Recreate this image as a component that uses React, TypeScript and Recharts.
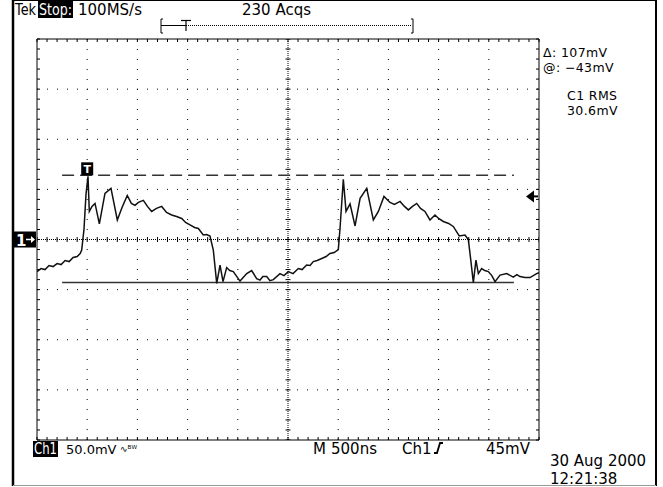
import React from 'react';
import {
  ComposedChart,
  Line,
  Scatter,
  XAxis,
  YAxis,
  ReferenceLine,
  ReferenceDot,
} from 'recharts';

// Ch1 trace, time in ns from left edge of the screen (500 ns/div), level in mV (50 mV/div)
const timeNs = [
  0, 40, 80, 120, 160, 200, 240, 280, 320, 360, 400, 430, 445, 468, 488, 508, 521, 548,
  578, 621, 677, 737, 800, 847, 899, 940, 976, 1010, 1059, 1100, 1142, 1190, 1242, 1290,
  1342, 1390, 1441, 1480, 1524, 1570, 1607, 1656, 1690, 1723, 1756, 1790, 1823, 1853, 1889,
  1920, 1955, 2022, 2089, 2138, 2188, 2221, 2250, 2288, 2320, 2354, 2420, 2460, 2503, 2550,
  2603, 2640, 2686, 2720, 2752, 2790, 2836, 2880, 2918, 2960, 3001, 3018, 3051, 3078, 3118,
  3168, 3218, 3284, 3350, 3400, 3456, 3516, 3560, 3616, 3660, 3699, 3740, 3782, 3820, 3864,
  3914, 3964, 4000, 4047, 4100, 4146, 4206, 4263, 4296, 4320, 4346, 4372, 4396, 4429, 4460,
  4495, 4530, 4562, 4612, 4679, 4744, 4780, 4811, 4860, 4910, 4977, 5000,
];
const ch1mV = [
  -32, -29, -30, -26, -27, -24, -25, -21, -22, -18, -17, -14, -10.5, 10, 45, 63, 28, 33,
  36, 15.5, 46, 51, 19.5, 32, 44, 36, 34, 37, 39, 33, 28, 31, 33, 27,
  24.5, 23, 21, 17, 14.5, 12, 11, 4.5, 5, 3.5, -10.5, -43.7, -25.5, -42, -28,
  -31, -32, -41.5, -34, -31, -39, -40.5, -37, -37, -41, -40, -34, -36, -32, -34,
  -29, -30, -25.5, -26, -22, -21, -19, -17, -14, -13, -10, 11, 60, 28, 35.5,
  13.5, 41, 51, 19.5, 28, 43, 37, 35, 38, 33, 29.5, 33, 36, 31, 28,
  19.5, 24.5, 21, 18, 16, 13, 3.5, 4.5, 0, -20, -43, -20.5, -34, -29, -31,
  -32, -36, -42, -35.5, -34, -37.5, -35, -37, -38, -38, -34, -33,
];

const majorT = [500, 1000, 1500, 2000, 3000, 3500, 4000, 4500];
const majorV = [-150, -100, -50, 50, 100, 150];
const minorT = Array.from({ length: 51 }, (_, i) => i * 100);
const minorV = Array.from({ length: 41 }, (_, i) => -200 + i * 10);

const cursorHigh = 64;
const cursorLow = -43;
const cursorFrom = 250;
const cursorTo = 4750;
const triggerT = 500;
const triggerLevel = 43;

const trace = timeNs.map((t, i) => ({ t, v: ch1mV[i] }));
const hTicks = minorT.map((t) => ({ t, v: 0 }));
const vTicks = minorV.map((v) => ({ t: 2500, v }));

const FONT = '"DejaVu Sans", sans-serif';
const noLabel = () => <g />;

const App = () => {
  return (
    <div style={{ position: 'absolute', left: 0, top: 0, width: 663, height: 487, background: '#fff' }}>
      <ComposedChart
        width={663}
        height={487}
        margin={{ top: 39, right: 124, bottom: 47, left: 37 }}
      >
        <XAxis
          xAxisId={0}
          dataKey="t"
          type="number"
          domain={[0, 5000]}
          ticks={minorT}
          interval={0}
          orientation="bottom"
          mirror
          tick={noLabel}
          tickSize={3}
          height={10}
          axisLine={{ stroke: '#000' }}
          tickLine={{ stroke: '#000' }}
          allowDataOverflow
        />
        <XAxis
          xAxisId="top"
          dataKey="t"
          type="number"
          domain={[0, 5000]}
          ticks={minorT}
          interval={0}
          orientation="top"
          mirror
          tick={noLabel}
          tickSize={3}
          height={10}
          axisLine={{ stroke: '#000' }}
          tickLine={{ stroke: '#000' }}
          allowDataOverflow
        />
        <YAxis
          yAxisId={0}
          type="number"
          domain={[-200, 200]}
          ticks={minorV}
          interval={0}
          orientation="left"
          mirror
          tick={noLabel}
          tickSize={3}
          width={10}
          axisLine={{ stroke: '#000' }}
          tickLine={{ stroke: '#000' }}
          allowDataOverflow
        />
        <YAxis
          yAxisId="right"
          type="number"
          domain={[-200, 200]}
          ticks={minorV}
          interval={0}
          orientation="right"
          mirror
          tick={noLabel}
          tickSize={3}
          width={10}
          axisLine={{ stroke: '#000' }}
          tickLine={{ stroke: '#000' }}
          allowDataOverflow
        />
        {majorT.map((t) => (
          <ReferenceLine key={`gx${t}`} x={t} stroke="#000" strokeDasharray="1 9" />
        ))}
        {majorV.map((v) => (
          <ReferenceLine key={`gy${v}`} y={v} stroke="#000" strokeDasharray="1 9" />
        ))}
        <ReferenceLine y={0} stroke="#000" strokeDasharray="1 1" />
        <ReferenceLine x={2500} stroke="#000" strokeDasharray="1 1" />
        <Scatter
          data={hTicks}
          dataKey="v"
          isAnimationActive={false}
          shape={(p: any) => (
            <line x1={p.cx} x2={p.cx} y1={p.cy - 2.5} y2={p.cy + 2.5} stroke="#000" strokeWidth={1} />
          )}
        />
        <Scatter
          data={vTicks}
          dataKey="v"
          isAnimationActive={false}
          shape={(p: any) => (
            <line x1={p.cx - 2.5} x2={p.cx + 2.5} y1={p.cy} y2={p.cy} stroke="#000" strokeWidth={1} />
          )}
        />
        <ReferenceLine
          segment={[{ x: cursorFrom, y: cursorHigh }, { x: cursorTo, y: cursorHigh }]}
          stroke="#333"
          strokeWidth={1.5}
          strokeDasharray="12 6"
        />
        <ReferenceLine
          segment={[{ x: cursorFrom, y: cursorLow }, { x: cursorTo, y: cursorLow }]}
          stroke="#333"
          strokeWidth={1.5}
        />
        <Line
          data={trace}
          dataKey="v"
          type="linear"
          stroke="#111"
          strokeWidth={1.5}
          dot={false}
          isAnimationActive={false}
        />
        <ReferenceDot
          x={triggerT}
          y={70}
          ifOverflow="visible"
          shape={(p: any) => (
            <g>
              <rect x={p.cx - 6} y={p.cy - 7} width={12} height={13} fill="#000" />
              <text x={p.cx} y={p.cy + 4} fill="#fff" fontSize={11} fontWeight="bold" textAnchor="middle" fontFamily={FONT}>
                T
              </text>
            </g>
          )}
        />
        <ReferenceDot
          x={0}
          y={0}
          ifOverflow="visible"
          shape={(p: any) => (
            <g>
              <rect x={p.cx - 23} y={p.cy - 8} width={22} height={16} fill="#000" />
              <text x={p.cx - 21} y={p.cy + 6} fill="#fff" fontSize={15} fontWeight="bold" fontFamily={FONT}>
                1
              </text>
              <line x1={p.cx - 11} x2={p.cx - 4} y1={p.cy} y2={p.cy} stroke="#fff" strokeWidth={1.5} />
              <polygon points={`${p.cx - 2},${p.cy} ${p.cx - 6},${p.cy - 3.5} ${p.cx - 6},${p.cy + 3.5}`} fill="#fff" />
            </g>
          )}
        />
        <ReferenceDot
          x={5000}
          y={triggerLevel}
          ifOverflow="visible"
          shape={(p: any) => (
            <g>
              <polygon points={`${p.cx - 13},${p.cy} ${p.cx - 5},${p.cy - 6} ${p.cx - 5},${p.cy + 6}`} fill="#000" />
              <line x1={p.cx - 6} x2={p.cx - 1} y1={p.cy} y2={p.cy} stroke="#000" strokeWidth={2} />
            </g>
          )}
        />
      </ComposedChart>

      <svg
        width={663}
        height={487}
        style={{ position: 'absolute', left: 0, top: 0, pointerEvents: 'none' }}
        fontFamily={FONT}
        fontSize={15}
      >
        {/* frame */}
        <line x1={13} x2={13} y1={0} y2={486} stroke="#000" strokeWidth={2.5} />
        <line x1={656} x2={656} y1={0} y2={486} stroke="#000" strokeWidth={2} />
        <line x1={13} x2={656} y1={0.5} y2={0.5} stroke="#000" strokeWidth={1} />
        <line x1={13} x2={656} y1={485.5} y2={485.5} stroke="#999" strokeWidth={1} />

        {/* header */}
        <text x={15} y={15} textLength={21} lengthAdjust="spacingAndGlyphs">Tek</text>
        <rect x={38} y={1} width={35} height={17} fill="#000" />
        <text x={39} y={15} fill="#fff" textLength={33} lengthAdjust="spacingAndGlyphs">Stop:</text>
        <text x={78} y={15}>100MS/s</text>
        <text x={242} y={15}>230 Acqs</text>

        {/* record view bar */}
        <path d="M163,19 L161,19 L161,33 L163,33" fill="none" stroke="#000" strokeWidth={1} />
        <line x1={161} x2={186} y1={25.5} y2={25.5} stroke="#000" strokeWidth={1} />
        <line x1={186} x2={412} y1={25.5} y2={25.5} stroke="#000" strokeWidth={1} strokeDasharray="1 1" />
        <path d="M411,19 L413,19 L413,33 L411,33" fill="none" stroke="#000" strokeWidth={1} />
        <line x1={181} x2={191} y1={20.5} y2={20.5} stroke="#000" strokeWidth={1.2} />
        <line x1={186} x2={186} y1={20} y2={31} stroke="#000" strokeWidth={1.2} />

        {/* readouts */}
        <text x={543} y={57} fontSize={12.5} letterSpacing={0.4}>Δ: 107mV</text>
        <text x={543} y={72} fontSize={12.5} letterSpacing={0.4}>@: −43mV</text>
        <text x={567} y={100} fontSize={12.5} letterSpacing={0.4}>C1 RMS</text>
        <text x={567} y={115} fontSize={12.5} letterSpacing={0.4}>30.6mV</text>

        {/* footer */}
        <rect x={33} y={441} width={25} height={16} fill="#000" />
        <text x={34} y={454} fill="#fff" textLength={23} lengthAdjust="spacingAndGlyphs">Ch1</text>
        <text x={66} y={454} fontSize={13}>50.0mV</text>
        <text x={120} y={452} fontSize={9}>∿ᴮᵂ</text>
        <text x={313} y={454}>M</text>
        <text x={331} y={454}>500ns</text>
        <text x={402} y={454}>Ch1</text>
        <path d="M434,453 L437,453 L440,443 L443,443" fill="none" stroke="#000" strokeWidth={1.8} />
        <text x={486} y={454}>45mV</text>
        <text x={550} y={466}>30 Aug 2000</text>
        <text x={550} y={484}>12:21:38</text>
      </svg>
    </div>
  );
};

export default App;
